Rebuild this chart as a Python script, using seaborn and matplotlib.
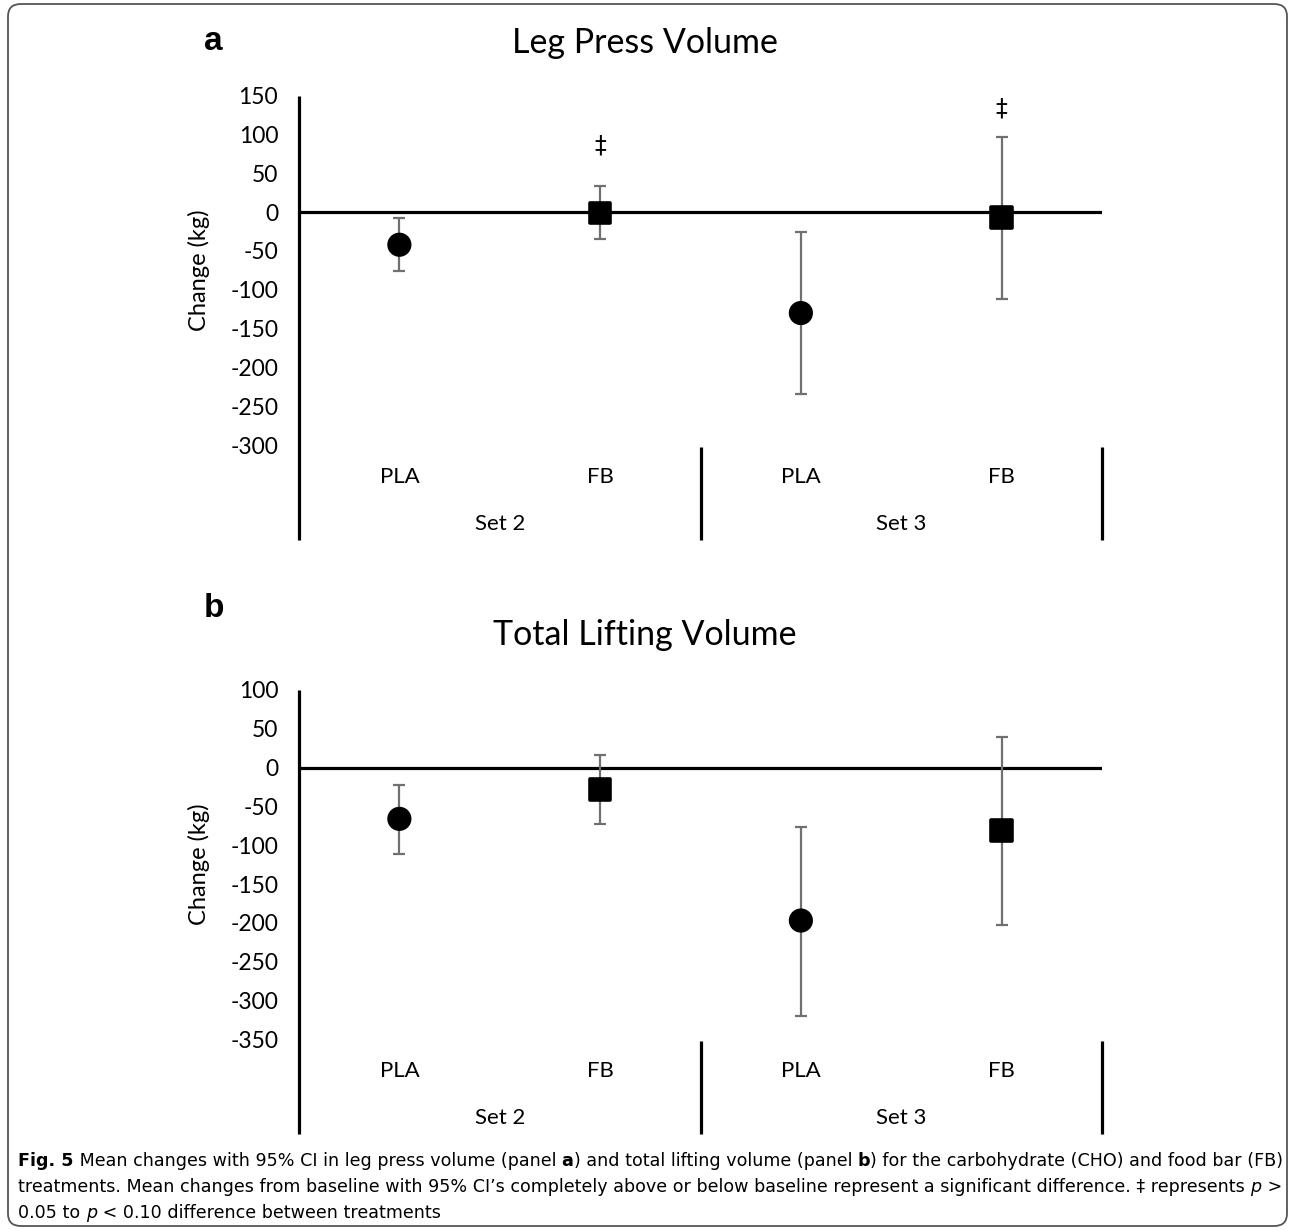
import matplotlib
matplotlib.use("Agg")
import matplotlib.pyplot as plt
import seaborn as sns
import pandas as pd
from matplotlib.patches import FancyBboxPatch
from matplotlib.transforms import blended_transform_factory

# ---------------- data ----------------
treatments = ["PLA", "FB", "PLA", "FB"]
set_names = ["Set 2", "Set 3"]

leg_mean = [-42, -1, -130, -7]
leg_lo = [-76, -34, -234, -112]
leg_hi = [-8, 34, -26, 97]
leg_sig_y = [None, 86, None, 133]

total_mean = [-66, -28, -197, -81]
total_lo = [-111, -73, -320, -203]
total_hi = [-22, 16, -76, 40]
total_sig_y = [None, None, None, None]

leg_yticks = [150, 100, 50, 0, -50, -100, -150, -200, -250, -300]
total_yticks = [100, 50, 0, -50, -100, -150, -200, -250, -300, -350]

titles = ["Leg Press Volume", "Total Lifting Volume"]
letters = ["a", "b"]
ylabel = "Change (kg)"

caption_lines = [
    [("Fig. 5", "bold", "normal"),
     (" Mean changes with 95% CI in leg press volume (panel ", "normal", "normal"),
     ("a", "bold", "normal"),
     (") and total lifting volume (panel ", "normal", "normal"),
     ("b", "bold", "normal"),
     (") for the carbohydrate (CHO) and food bar (FB)", "normal", "normal")],
    [("treatments. Mean changes from baseline with 95% CI\u2019s completely above or below baseline represent a significant difference. \u2021 represents ", "normal", "normal"),
     ("p", "normal", "italic"),
     (" >", "normal", "normal")],
    [("0.05 to ", "normal", "normal"),
     ("p", "normal", "italic"),
     (" < 0.10 difference between treatments", "normal", "normal")],
]

# ---------------- style ----------------
sns.set_theme(style="white")
plt.rcParams["font.family"] = ["Lato", "DejaVu Sans"]
plt.rcParams["axes.unicode_minus"] = False

W, H = 1290, 1230
fig = plt.figure(figsize=(W / 100, H / 100), dpi=100)


def draw_panel(rect, mean, lo, hi, sig_y, yticks, title, letter, title_y, letter_y):
    ax = fig.add_axes(rect)
    df = pd.DataFrame({"pos": list(range(len(treatments))), "treatment": treatments,
                       "mean": mean, "lo": lo, "hi": hi})
    ax.axhline(0, color="black", lw=2.3, zorder=1.5)
    ax.errorbar(df["pos"], df["mean"],
                yerr=[df["mean"] - df["lo"], df["hi"] - df["mean"]],
                fmt="none", ecolor="#707070", elinewidth=1.6, capsize=4.6,
                capthick=1.6, zorder=2)
    sns.scatterplot(data=df, x="pos", y="mean", style="treatment",
                    markers={"PLA": "o", "FB": "s"}, s=14.8 ** 2,
                    color="black", edgecolor="black", linewidth=2.6,
                    legend=False, ax=ax, zorder=3)
    for c in ax.collections:
        c.set_joinstyle("round")
    for i, y in enumerate(sig_y):
        if y is not None:
            ax.text(i, y, "\u2021", ha="center", va="center", fontsize=17,
                    color="black", family=["DejaVu Sans"])

    ax.set_xlim(-0.5, len(treatments) - 0.5)
    ax.set_ylim(min(yticks), max(yticks))
    ax.set_yticks(yticks)
    ax.set_xticks([])
    ax.set_xlabel("")
    ax.set_ylabel(ylabel, fontsize=17, color="black")
    ax.yaxis.set_label_coords(-0.111, 0.5)
    ax.tick_params(axis="y", length=0, pad=15, labelsize=16.5, labelcolor="black")
    for s in ax.spines.values():
        s.set_visible(False)

    tr = blended_transform_factory(ax.transData, ax.transAxes)
    ax.plot([-0.5, -0.5], [1.0, -0.272], transform=tr, color="black", lw=2.3,
            clip_on=False, solid_capstyle="butt")
    for xs in [1.5, 3.5]:
        ax.plot([xs, xs], [-0.006, -0.272], transform=tr, color="black",
                lw=2.3, clip_on=False, solid_capstyle="butt")
    for i, t in enumerate(treatments):
        ax.text(i, -0.0916, t, transform=tr, ha="center", va="center",
                fontsize=16, color="black")
    for j, sname in enumerate(set_names):
        ax.text(2 * j + 0.5, -0.226, sname, transform=tr, ha="center",
                va="center", fontsize=16, color="black")

    fig.text(0.5, title_y, title, ha="center", va="center", fontsize=24.5,
             color="black")
    fig.text(0.158, letter_y, letter, ha="left", va="center", fontsize=24,
             weight="bold", family=["Liberation Sans", "DejaVu Sans"],
             color="black")
    return ax


ax_w = 803 / W
ax_h = 349.3 / H
draw_panel([299 / W, 1 - 445 / H, ax_w, ax_h], leg_mean, leg_lo, leg_hi,
           leg_sig_y, leg_yticks, titles[0], letters[0], 1 - 43 / H, 1 - 42 / H)
draw_panel([299 / W, 1 - 1039.3 / H, ax_w, ax_h], total_mean, total_lo,
           total_hi, total_sig_y, total_yticks, titles[1], letters[1],
           1 - 635 / H, 1 - 608 / H)

# ---------------- caption ----------------
cap_ax = fig.add_axes([0, 0, 1, 1])
cap_ax.axis("off")
cap_ax.set_xlim(0, 1)
cap_ax.set_ylim(0, 1)
CAP_FONT = ["DejaVu Sans"]


def build_line(parts, x, y, size):
    arts = []
    prev = None
    for txt, weight, style in parts:
        if prev is None:
            t = cap_ax.text(x, y, txt, transform=fig.transFigure, ha="left",
                            va="bottom", fontsize=size, weight=weight,
                            style=style, family=CAP_FONT, color="black")
        else:
            t = cap_ax.annotate(txt, xy=(1, 0), xycoords=prev, ha="left",
                                va="bottom", fontsize=size, weight=weight,
                                style=style, family=CAP_FONT, color="black")
        arts.append(t)
        prev = t
    return arts


cap_x = 18 / W
cap_ys = [1 - 1170 / H, 1 - 1196 / H, 1 - 1222 / H]
target_w = 1272 - 18

size0 = 12.0
tmp = build_line(caption_lines[0], cap_x, cap_ys[0], size0)
fig.canvas.draw()
rend = fig.canvas.get_renderer()
w_meas = tmp[-1].get_window_extent(rend).x1 - tmp[0].get_window_extent(rend).x0
for a in tmp:
    a.remove()
cap_size = size0 * target_w / w_meas
for parts, y in zip(caption_lines, cap_ys):
    build_line(parts, cap_x, y, cap_size)

# ---------------- border ----------------
border = FancyBboxPatch((8 / W, 4 / H), 1279 / W, 1222 / H,
                        boxstyle="round,pad=0,rounding_size=0.01",
                        transform=fig.transFigure, fill=False,
                        edgecolor="#555555", lw=1.3)
fig.patches.append(border)

fig.savefig("out.png", dpi=100)
